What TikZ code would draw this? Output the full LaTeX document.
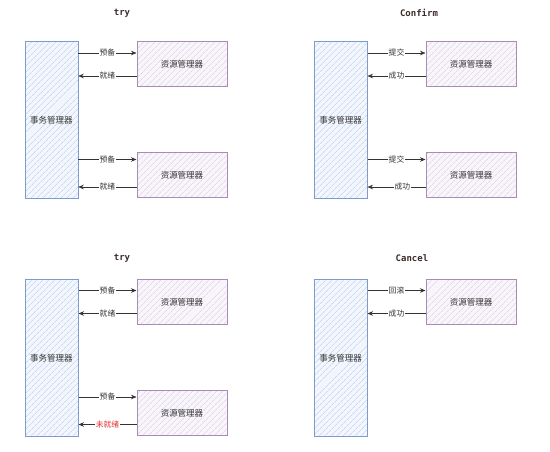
\documentclass[tikz,border=0pt]{standalone}
\usepackage{fontspec}
\newfontfamily\cjk{Noto Sans CJK SC}
\newfontfamily\codefont{DejaVu Sans Mono}
\usetikzlibrary{arrows.meta,patterns.meta}
\definecolor{tmline}{HTML}{7D9CCB}
\definecolor{tmfill}{HTML}{F3F7FD}
\definecolor{tmhatch}{HTML}{B4CAEC}
\definecolor{rmline}{HTML}{A98BB8}
\definecolor{rmfill}{HTML}{F9F6FB}
\definecolor{rmhatch}{HTML}{D8C8E2}
\definecolor{arrowc}{HTML}{333333}
\definecolor{titlec}{HTML}{3B2B2B}
\definecolor{failc}{HTML}{E0312E}
\tikzset{
  tmbox/.style={draw=tmline, line width=1pt, preaction={fill=tmfill},
    pattern={Lines[angle=45,distance=4pt,line width=0.5pt]}, pattern color=tmhatch,
    minimum width=53pt, minimum height=157pt, inner sep=0pt, text=arrowc,
    font=\cjk\fontsize{8.5}{10}\selectfont},
  rmbox/.style={draw=rmline, line width=1pt, preaction={fill=rmfill},
    pattern={Lines[angle=45,distance=4pt,line width=0.5pt]}, pattern color=rmhatch,
    minimum width=90pt, minimum height=45pt, inner sep=0pt, text=arrowc,
    font=\cjk\fontsize{8.5}{10}\selectfont},
  flow/.style={draw=arrowc, line width=0.6pt, -{Stealth[length=5.5pt,width=4.5pt]}},
  lbl/.style={fill=white, inner sep=1pt, text=arrowc, font=\cjk\fontsize{7.8}{9}\selectfont},
  ttl/.style={text=titlec, font=\codefont\bfseries\fontsize{9}{10}\selectfont},
}
\begin{document}
\begin{tikzpicture}[x=1pt,y=-1pt]
\useasboundingbox (0,0) rectangle (550,452);
% try (top left)
\begin{scope}[name prefix=t-]
\node[ttl] (title) at (122,13) {try};
\node[tmbox] (tm) at (51.5,120.5) {事务管理器};
\node[rmbox] (rm1) at (182,64.5) {资源管理器};
\node[rmbox] (rm2) at (182,175.5) {资源管理器};
\coordinate (p1) at ([yshift=11.5pt]rm1.west);
\coordinate (q1) at ([yshift=-11.5pt]rm1.west);
\coordinate (p2) at ([yshift=16pt]rm2.west);
\coordinate (q2) at ([yshift=-11.5pt]rm2.west);
\draw[flow] (tm.east |- p1) -- node[lbl]{预备} (p1);
\draw[flow] (q1) -- node[lbl]{就绪} (tm.east |- q1);
\draw[flow] (tm.east |- p2) -- node[lbl]{预备} (p2);
\draw[flow] (q2) -- node[lbl]{就绪} (tm.east |- q2);
\end{scope}
% Confirm (top right)
\begin{scope}[shift={(289,0)}, name prefix=c-]
\node[ttl] (title) at (130,13) {Confirm};
\node[tmbox] (tm) at (51.5,120.5) {事务管理器};
\node[rmbox] (rm1) at (182,64.5) {资源管理器};
\node[rmbox] (rm2) at (182,175.5) {资源管理器};
\coordinate (p1) at ([yshift=11.5pt]rm1.west);
\coordinate (q1) at ([yshift=-11.5pt]rm1.west);
\coordinate (p2) at ([yshift=16pt]rm2.west);
\coordinate (q2) at ([yshift=-11.5pt]rm2.west);
\draw[flow] (tm.east |- p1) -- node[lbl]{提交} (p1);
\draw[flow] (q1) -- node[lbl]{成功} (tm.east |- q1);
\draw[flow] (tm.east |- p2) -- node[lbl]{提交} (p2);
\draw[flow] (q2) -- node[lbl, pos=0.4]{成功} (tm.east |- q2);
\end{scope}
% try (bottom left)
\begin{scope}[shift={(0,237)}, name prefix=f-]
\node[ttl] (title) at (122,21) {try};
\node[tmbox] (tm) at (51.5,121) {事务管理器};
\node[rmbox] (rm1) at (182,65) {资源管理器};
\node[rmbox] (rm2) at (182,176) {资源管理器};
\coordinate (p1) at ([yshift=11.5pt]rm1.west);
\coordinate (q1) at ([yshift=-11.5pt]rm1.west);
\coordinate (p2) at ([yshift=16pt]rm2.west);
\coordinate (q2) at ([yshift=-11.5pt]rm2.west);
\draw[flow] (tm.east |- p1) -- node[lbl]{预备} (p1);
\draw[flow] (q1) -- node[lbl]{就绪} (tm.east |- q1);
\draw[flow] (tm.east |- p2) -- node[lbl]{预备} (p2);
\draw[flow] (q2) -- node[lbl, text=failc]{未就绪} (tm.east |- q2);
\end{scope}
% Cancel (bottom right)
\begin{scope}[shift={(289,237)}, name prefix=r-]
\node[ttl] (title) at (123,21) {Cancel};
\node[tmbox] (tm) at (51.5,121) {事务管理器};
\node[rmbox] (rm1) at (182,65) {资源管理器};
\coordinate (p1) at ([yshift=11.5pt]rm1.west);
\coordinate (q1) at ([yshift=-11.5pt]rm1.west);
\draw[flow] (tm.east |- p1) -- node[lbl]{回滚} (p1);
\draw[flow] (q1) -- node[lbl]{成功} (tm.east |- q1);
\end{scope}
\end{tikzpicture}
\end{document}
